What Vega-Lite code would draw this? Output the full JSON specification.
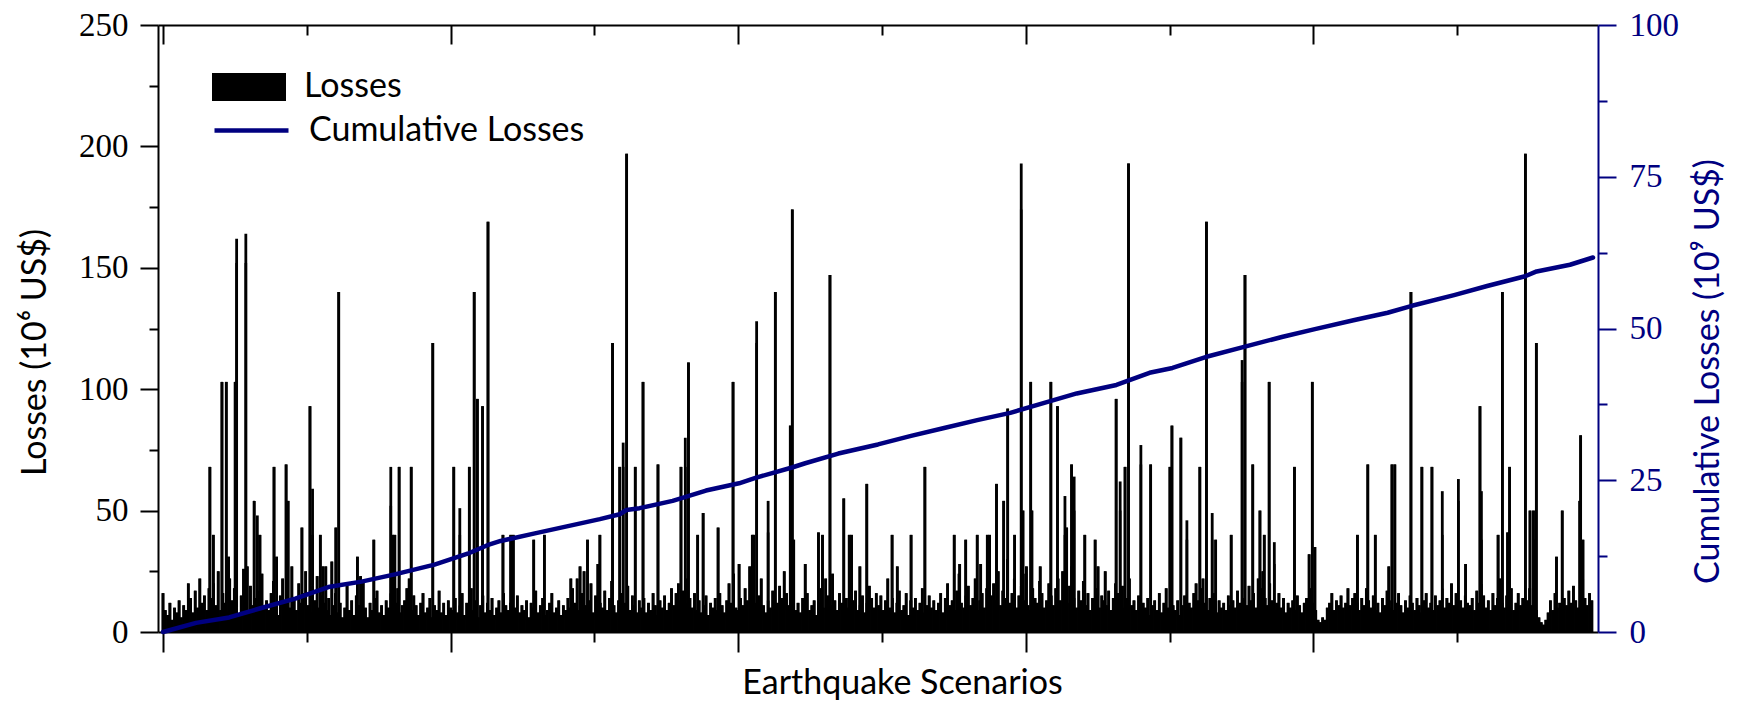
{
"$schema":"https://vega.github.io/schema/vega-lite/v6.json",
"width":1440,"height":607,
"autosize":{"type":"none"},
"padding":{"left":158,"top":25,"right":140,"bottom":72},
"background":"white",
"config":{"view":{"stroke":null},"axis":{"grid":false}},
"datasets":{
"loss":[
{"s":0,"l":16},{"s":8,"l":9},{"s":16,"l":7},{"s":24,"l":12},{"s":32,"l":5},{"s":40,"l":10},{"s":48,"l":8},{"s":56,"l":13},{"s":64,"l":6},{"s":72,"l":11},{"s":80,"l":9},{"s":88,"l":20},{"s":96,"l":14},{"s":104,"l":8},{"s":112,"l":17},{"s":120,"l":10},{"s":128,"l":22},{"s":136,"l":12},{"s":144,"l":15},{"s":152,"l":9},{"s":160,"l":18},
{"s":168,"l":14},{"s":176,"l":20},{"s":184,"l":11},{"s":192,"l":25},{"s":200,"l":9},{"s":208,"l":16},{"s":216,"l":12},{"s":224,"l":8},{"s":232,"l":22},{"s":240,"l":13},{"s":248,"l":18},{"s":256,"l":10},{"s":264,"l":7},{"s":272,"l":15},{"s":280,"l":26},{"s":288,"l":12},{"s":296,"l":9},{"s":304,"l":19},{"s":312,"l":11},{"s":320,"l":14},{"s":328,"l":8},{"s":336,"l":17},{"s":344,"l":24},{"s":352,"l":10},{"s":360,"l":13},{"s":368,"l":9},{"s":376,"l":16},{"s":384,"l":21},{"s":392,"l":12},{"s":400,"l":7},
{"s":408,"l":15},{"s":416,"l":22},{"s":424,"l":13},{"s":432,"l":18},{"s":440,"l":10},{"s":448,"l":27},{"s":456,"l":14},{"s":464,"l":9},{"s":472,"l":20},{"s":480,"l":12},{"s":488,"l":16},{"s":496,"l":25},{"s":504,"l":11},{"s":512,"l":8},{"s":520,"l":19},{"s":528,"l":13},{"s":536,"l":23},{"s":544,"l":10},{"s":552,"l":15},{"s":560,"l":12},
{"s":568,"l":9},{"s":576,"l":14},{"s":584,"l":7},{"s":592,"l":11},{"s":600,"l":16},{"s":608,"l":8},{"s":616,"l":12},{"s":624,"l":6},{"s":632,"l":10},{"s":640,"l":19},{"s":648,"l":9},{"s":656,"l":13},{"s":664,"l":7},{"s":672,"l":15},{"s":680,"l":11},{"s":688,"l":8},{"s":696,"l":21},{"s":704,"l":10},{"s":712,"l":6},{"s":720,"l":12},{"s":728,"l":9},{"s":736,"l":14},{"s":744,"l":17},{"s":752,"l":8},{"s":760,"l":11},{"s":768,"l":7},{"s":776,"l":13},{"s":784,"l":10},{"s":792,"l":16},{"s":800,"l":9},{"s":808,"l":12},{"s":816,"l":18},{"s":824,"l":8},{"s":832,"l":11},
{"s":840,"l":13},{"s":848,"l":18},{"s":856,"l":22},{"s":864,"l":9},{"s":872,"l":15},{"s":880,"l":11},{"s":888,"l":7},{"s":896,"l":12},{"s":904,"l":16},{"s":912,"l":8},{"s":920,"l":10},{"s":928,"l":14},{"s":936,"l":6},{"s":944,"l":11},{"s":952,"l":9},{"s":960,"l":17},{"s":968,"l":8},{"s":976,"l":12},{"s":984,"l":7},{"s":992,"l":13},{"s":1000,"l":10},
{"s":1008,"l":9},{"s":1016,"l":14},{"s":1024,"l":8},{"s":1032,"l":11},{"s":1040,"l":16},{"s":1048,"l":7},{"s":1056,"l":12},{"s":1064,"l":10},{"s":1072,"l":18},{"s":1080,"l":9},{"s":1088,"l":13},{"s":1096,"l":6},{"s":1104,"l":11},{"s":1112,"l":15},{"s":1120,"l":8},{"s":1128,"l":12},{"s":1136,"l":9},{"s":1144,"l":14},{"s":1152,"l":7},{"s":1160,"l":10},{"s":1168,"l":13},{"s":1176,"l":8},{"s":1184,"l":16},{"s":1192,"l":11},{"s":1200,"l":9},
{"s":1208,"l":12},{"s":1216,"l":7},{"s":1224,"l":10},{"s":1232,"l":15},{"s":1240,"l":8},{"s":1248,"l":11},{"s":1256,"l":9},{"s":1264,"l":13},{"s":1272,"l":6},{"s":1280,"l":12},{"s":1288,"l":10},{"s":1296,"l":17},{"s":1304,"l":8},{"s":1312,"l":11},{"s":1320,"l":14},{"s":1328,"l":7},{"s":1336,"l":9},{"s":1344,"l":12},{"s":1352,"l":16},{"s":1360,"l":8},{"s":1368,"l":10},{"s":1376,"l":13},{"s":1384,"l":7},{"s":1392,"l":11},{"s":1400,"l":9},
{"s":1408,"l":14},{"s":1416,"l":10},{"s":1424,"l":18},{"s":1432,"l":12},{"s":1440,"l":22},{"s":1448,"l":9},{"s":1456,"l":16},{"s":1464,"l":25},{"s":1472,"l":11},{"s":1480,"l":13},{"s":1488,"l":20},{"s":1496,"l":8},{"s":1504,"l":15},{"s":1512,"l":28},{"s":1520,"l":12},{"s":1528,"l":10},{"s":1536,"l":17},{"s":1544,"l":9},{"s":1552,"l":14},{"s":1560,"l":21},{"s":1568,"l":11},{"s":1576,"l":8},{"s":1584,"l":13},{"s":1592,"l":16},{"s":1600,"l":10},{"s":1608,"l":12},{"s":1616,"l":19},{"s":1624,"l":9},{"s":1632,"l":15},{"s":1640,"l":11},{"s":1648,"l":8},{"s":1656,"l":13},
{"s":1664,"l":10},{"s":1672,"l":14},{"s":1680,"l":8},{"s":1688,"l":12},{"s":1696,"l":9},{"s":1704,"l":16},{"s":1712,"l":11},{"s":1720,"l":7},{"s":1728,"l":13},{"s":1736,"l":10},{"s":1744,"l":15},{"s":1752,"l":9},{"s":1760,"l":12},{"s":1768,"l":18},{"s":1776,"l":11},{"s":1784,"l":16},{"s":1792,"l":20},{"s":1800,"l":13},
{"s":1808,"l":17},{"s":1816,"l":12},{"s":1824,"l":22},{"s":1832,"l":14},{"s":1840,"l":10},{"s":1848,"l":16},{"s":1856,"l":9},{"s":1864,"l":13},{"s":1872,"l":8},{"s":1880,"l":11},{"s":1888,"l":15},{"s":1896,"l":7},{"s":1904,"l":12},{"s":1912,"l":10},{"s":1920,"l":14},{"s":1928,"l":9},{"s":1936,"l":16},{"s":1944,"l":11},{"s":1952,"l":8},{"s":1960,"l":13},{"s":1968,"l":20},{"s":1976,"l":12},{"s":1984,"l":24},{"s":1992,"l":10},{"s":2000,"l":9},
{"s":2008,"l":14},{"s":2016,"l":11},{"s":2024,"l":18},{"s":2032,"l":13},{"s":2040,"l":27},{"s":2048,"l":16},{"s":2056,"l":12},{"s":2064,"l":9},{"s":2072,"l":15},{"s":2080,"l":22},{"s":2088,"l":11},{"s":2096,"l":8},{"s":2104,"l":13},{"s":2112,"l":10},{"s":2120,"l":17},{"s":2128,"l":9},{"s":2136,"l":12},{"s":2144,"l":19},{"s":2152,"l":14},{"s":2160,"l":25},{"s":2168,"l":16},{"s":2176,"l":11},{"s":2184,"l":20},{"s":2192,"l":13},{"s":2200,"l":9},
{"s":2208,"l":12},{"s":2216,"l":8},{"s":2224,"l":14},{"s":2232,"l":10},{"s":2240,"l":16},{"s":2248,"l":9},{"s":2256,"l":11},{"s":2264,"l":13},{"s":2272,"l":7},{"s":2280,"l":12},{"s":2288,"l":18},{"s":2296,"l":10},{"s":2304,"l":22},{"s":2312,"l":15},{"s":2320,"l":11},{"s":2328,"l":24},{"s":2336,"l":13},{"s":2344,"l":9},{"s":2352,"l":16},{"s":2360,"l":12},{"s":2368,"l":8},{"s":2376,"l":14},{"s":2384,"l":10},{"s":2392,"l":20},{"s":2400,"l":13},{"s":2408,"l":17},{"s":2416,"l":9},{"s":2424,"l":11},{"s":2432,"l":15},{"s":2440,"l":8},{"s":2448,"l":12},{"s":2456,"l":19},{"s":2464,"l":14},{"s":2472,"l":10},{"s":2480,"l":16},
{"s":2488,"l":11},{"s":2496,"l":15},{"s":2504,"l":9},{"s":2512,"l":13},{"s":2520,"l":22},{"s":2528,"l":10},{"s":2536,"l":14},{"s":2544,"l":8},{"s":2552,"l":12},{"s":2560,"l":17},{"s":2568,"l":9},{"s":2576,"l":11},{"s":2584,"l":16},{"s":2592,"l":7},{"s":2600,"l":13},{"s":2608,"l":10},{"s":2616,"l":14},{"s":2624,"l":9},{"s":2632,"l":12},{"s":2640,"l":18},{"s":2648,"l":8},{"s":2656,"l":11},{"s":2664,"l":15},{"s":2672,"l":10},{"s":2680,"l":13},
{"s":2688,"l":9},{"s":2696,"l":12},{"s":2704,"l":16},{"s":2712,"l":8},{"s":2720,"l":14},{"s":2728,"l":20},{"s":2736,"l":11},{"s":2744,"l":13},{"s":2752,"l":9},{"s":2760,"l":17},{"s":2768,"l":24},{"s":2776,"l":12},{"s":2784,"l":10},{"s":2792,"l":15},{"s":2800,"l":19},{"s":2808,"l":11},{"s":2816,"l":14},{"s":2824,"l":22},{"s":2832,"l":9},{"s":2840,"l":13},{"s":2848,"l":16},{"s":2856,"l":10},{"s":2864,"l":18},{"s":2872,"l":12},{"s":2880,"l":15},
{"s":2888,"l":20},{"s":2896,"l":13},{"s":2904,"l":25},{"s":2912,"l":11},{"s":2920,"l":17},{"s":2928,"l":14},{"s":2936,"l":30},{"s":2944,"l":12},{"s":2952,"l":16},{"s":2960,"l":22},{"s":2968,"l":10},{"s":2976,"l":15},{"s":2984,"l":19},{"s":2992,"l":13},{"s":3000,"l":24},{"s":3008,"l":11},{"s":3016,"l":9},{"s":3024,"l":18},{"s":3032,"l":14},{"s":3040,"l":12},{"s":3048,"l":21},{"s":3056,"l":16},{"s":3064,"l":10},{"s":3072,"l":13},{"s":3080,"l":20},
{"s":3088,"l":15},{"s":3096,"l":11},{"s":3104,"l":18},{"s":3112,"l":22},{"s":3120,"l":13},{"s":3128,"l":25},{"s":3136,"l":16},{"s":3144,"l":12},{"s":3152,"l":19},{"s":3160,"l":27},{"s":3168,"l":14},{"s":3176,"l":10},{"s":3184,"l":17},{"s":3192,"l":13},{"s":3200,"l":21},{"s":3208,"l":11},{"s":3216,"l":16},{"s":3224,"l":9},{"s":3232,"l":14},{"s":3240,"l":12},{"s":3248,"l":18},{"s":3256,"l":10},{"s":3264,"l":15},{"s":3272,"l":13},{"s":3280,"l":11},{"s":3288,"l":17},{"s":3296,"l":9},{"s":3304,"l":14},{"s":3312,"l":20},
{"s":3320,"l":16},{"s":3328,"l":12},{"s":3336,"l":19},{"s":3344,"l":10},{"s":3352,"l":14},{"s":3360,"l":22},{"s":3368,"l":11},{"s":3376,"l":13},{"s":3384,"l":9},{"s":3392,"l":15},{"s":3400,"l":8},{"s":3408,"l":12},{"s":3416,"l":10},{"s":3424,"l":14},{"s":3432,"l":7},{"s":3440,"l":11},{"s":3448,"l":13},{"s":3456,"l":9},{"s":3464,"l":16},{"s":3472,"l":8},{"s":3480,"l":12},{"s":3488,"l":18},{"s":3496,"l":10},{"s":3504,"l":14},{"s":3512,"l":11},
{"s":3520,"l":9},{"s":3528,"l":13},{"s":3536,"l":7},{"s":3544,"l":11},{"s":3552,"l":15},{"s":3560,"l":8},{"s":3568,"l":12},{"s":3576,"l":10},{"s":3584,"l":16},{"s":3592,"l":20},{"s":3600,"l":13},{"s":3608,"l":18},{"s":3616,"l":22},{"s":3624,"l":12},{"s":3632,"l":9},{"s":3640,"l":14},{"s":3648,"l":11},{"s":3656,"l":16},{"s":3664,"l":8},{"s":3672,"l":13},{"s":3680,"l":10},{"s":3688,"l":12},{"s":3696,"l":9},{"s":3704,"l":15},{"s":3712,"l":11},
{"s":3720,"l":13},{"s":3728,"l":10},{"s":3736,"l":17},{"s":3744,"l":12},{"s":3752,"l":9},{"s":3760,"l":14},{"s":3768,"l":11},{"s":3776,"l":19},{"s":3784,"l":13},{"s":3792,"l":16},{"s":3800,"l":10},{"s":3808,"l":22},{"s":3816,"l":18},{"s":3824,"l":25},{"s":3832,"l":14},{"s":3840,"l":11},{"s":3848,"l":20},{"s":3856,"l":13},{"s":3864,"l":9},{"s":3872,"l":12},{"s":3880,"l":16},{"s":3888,"l":10},{"s":3896,"l":14},{"s":3904,"l":8},{"s":3912,"l":12},
{"s":3920,"l":10},{"s":3928,"l":13},{"s":3936,"l":9},{"s":3944,"l":15},{"s":3952,"l":11},{"s":3960,"l":8},{"s":3968,"l":12},{"s":3976,"l":14},{"s":3984,"l":10},{"s":3992,"l":18},{"s":4000,"l":12},{"s":4008,"l":9},{"s":4016,"l":5},{"s":4024,"l":4},{"s":4032,"l":6},{"s":4040,"l":5},{"s":4048,"l":10},{"s":4056,"l":12},{"s":4064,"l":16},{"s":4072,"l":9},{"s":4080,"l":13},{"s":4088,"l":11},{"s":4096,"l":15},{"s":4104,"l":10},{"s":4112,"l":12},{"s":4120,"l":18},{"s":4128,"l":11},{"s":4136,"l":14},
{"s":4144,"l":16},{"s":4152,"l":12},{"s":4160,"l":9},{"s":4168,"l":14},{"s":4176,"l":11},{"s":4184,"l":18},{"s":4192,"l":13},{"s":4200,"l":10},{"s":4208,"l":15},{"s":4216,"l":9},{"s":4224,"l":12},{"s":4232,"l":8},{"s":4240,"l":14},{"s":4248,"l":11},{"s":4256,"l":17},{"s":4264,"l":10},{"s":4272,"l":13},{"s":4280,"l":9},{"s":4288,"l":12},{"s":4296,"l":16},{"s":4304,"l":11},{"s":4312,"l":8},{"s":4320,"l":13},{"s":4328,"l":10},{"s":4336,"l":15},
{"s":4344,"l":12},{"s":4352,"l":9},{"s":4360,"l":14},{"s":4368,"l":11},{"s":4376,"l":8},{"s":4384,"l":13},{"s":4392,"l":16},{"s":4400,"l":10},{"s":4408,"l":12},{"s":4416,"l":9},{"s":4424,"l":15},{"s":4432,"l":11},{"s":4440,"l":13},{"s":4448,"l":18},{"s":4456,"l":10},{"s":4464,"l":14},{"s":4472,"l":12},{"s":4480,"l":20},{"s":4488,"l":11},{"s":4496,"l":16},{"s":4504,"l":9},{"s":4512,"l":13},{"s":4520,"l":10},{"s":4528,"l":15},{"s":4536,"l":12},
{"s":4544,"l":11},{"s":4552,"l":14},{"s":4560,"l":9},{"s":4568,"l":17},{"s":4576,"l":12},{"s":4584,"l":20},{"s":4592,"l":15},{"s":4600,"l":10},{"s":4608,"l":13},{"s":4616,"l":9},{"s":4624,"l":16},{"s":4632,"l":11},{"s":4640,"l":14},{"s":4648,"l":22},{"s":4656,"l":12},{"s":4664,"l":10},{"s":4672,"l":15},{"s":4680,"l":13},{"s":4688,"l":18},{"s":4696,"l":9},{"s":4704,"l":12},{"s":4712,"l":16},{"s":4720,"l":11},{"s":4728,"l":14},{"s":4736,"l":10},
{"s":4744,"l":13},{"s":4752,"l":18},{"s":4760,"l":11},{"s":4768,"l":15},{"s":4776,"l":9},{"s":4784,"l":6},{"s":4792,"l":4},{"s":4800,"l":3},{"s":4808,"l":5},{"s":4816,"l":8},{"s":4824,"l":13},{"s":4832,"l":9},{"s":4840,"l":16},{"s":4848,"l":10},{"s":4856,"l":12},{"s":4864,"l":8},{"s":4872,"l":14},{"s":4880,"l":11},{"s":4888,"l":17},{"s":4896,"l":12},{"s":4904,"l":19},{"s":4912,"l":13},{"s":4920,"l":10},{"s":4928,"l":15},{"s":4936,"l":22},{"s":4944,"l":14},{"s":4952,"l":11},{"s":4960,"l":16},{"s":4968,"l":13},
{"s":163,"l":68},{"s":175,"l":40},{"s":205,"l":103},{"s":220,"l":103},{"s":228,"l":31},{"s":251,"l":103},{"s":256,"l":152},{"s":288,"l":152},{"s":293,"l":27},{"s":317,"l":54},{"s":328,"l":40},{"s":337,"l":40},{"s":386,"l":68},{"s":395,"l":31},{"s":428,"l":69},{"s":435,"l":54},{"s":483,"l":43},{"s":511,"l":93},{"s":520,"l":40},{"s":547,"l":40},{"s":556,"l":27},{"s":566,"l":27},{"s":587,"l":29},{"s":601,"l":43},{"s":611,"l":140},{"s":676,"l":31},{"s":687,"l":23},{"s":733,"l":38},{"s":792,"l":52},{"s":799,"l":40},{"s":806,"l":40},{"s":821,"l":68},
{"s":863,"l":68},{"s":938,"l":119},{"s":1011,"l":68},{"s":1032,"l":40},{"s":1065,"l":68},{"s":1082,"l":140},{"s":1093,"l":96},{"s":1111,"l":93},{"s":1130,"l":169},{"s":1182,"l":40},{"s":1209,"l":40},{"s":1218,"l":40},{"s":1289,"l":38},{"s":1326,"l":40},{"s":1418,"l":22},{"s":1450,"l":27},{"s":1476,"l":38},{"s":1519,"l":40},{"s":1563,"l":119},{"s":1588,"l":68},{"s":1600,"l":68},{"s":1612,"l":197},{"s":1642,"l":68},
{"s":1669,"l":103},{"s":1721,"l":69},{"s":1801,"l":68},{"s":1816,"l":68},{"s":1827,"l":111},{"s":1859,"l":40},{"s":1878,"l":49},{"s":1930,"l":43},{"s":1982,"l":103},{"s":2003,"l":28},{"s":2049,"l":40},{"s":2054,"l":40},{"s":2064,"l":119},{"s":2104,"l":41},{"s":2129,"l":140},{"s":2181,"l":85},{"s":2188,"l":174},{"s":2193,"l":38},{"s":2233,"l":28},{"s":2279,"l":41},{"s":2293,"l":40},{"s":2319,"l":147},{"s":2367,"l":55},{"s":2386,"l":40},{"s":2394,"l":40},{"s":2423,"l":27},{"s":2447,"l":61},
{"s":2535,"l":40},{"s":2553,"l":27},{"s":2601,"l":40},{"s":2649,"l":68},{"s":2751,"l":40},{"s":2770,"l":28},{"s":2791,"l":38},{"s":2831,"l":40},{"s":2843,"l":28},{"s":2866,"l":40},{"s":2874,"l":40},{"s":2898,"l":61},{"s":2923,"l":54},{"s":2937,"l":92},{"s":2961,"l":40},{"s":2984,"l":174},{"s":2990,"l":50},{"s":3002,"l":27},{"s":3017,"l":103},{"s":3021,"l":50},{"s":3050,"l":27},{"s":3087,"l":103},{"s":3110,"l":93},{"s":3136,"l":40},{"s":3142,"l":43},{"s":3159,"l":69},{"s":3168,"l":50},{"s":3205,"l":40},{"s":3241,"l":38},{"s":3251,"l":27},{"s":3276,"l":25},{"s":3314,"l":96},
{"s":3328,"l":50},{"s":3345,"l":68},{"s":3357,"l":193},{"s":3400,"l":69},{"s":3434,"l":69},{"s":3501,"l":68},{"s":3508,"l":85},{"s":3539,"l":80},{"s":3560,"l":38},{"s":3605,"l":68},{"s":3628,"l":169},{"s":3648,"l":38},{"s":3660,"l":38},{"s":3714,"l":40},{"s":3752,"l":103},{"s":3762,"l":147},{"s":3789,"l":69},{"s":3814,"l":50},{"s":3829,"l":40},{"s":3846,"l":103},{"s":3864,"l":28},{"s":3934,"l":68},{"s":3985,"l":32},{"s":3996,"l":103},{"s":4005,"l":35},
{"s":4153,"l":40},{"s":4189,"l":69},{"s":4215,"l":40},{"s":4262,"l":27},{"s":4273,"l":69},{"s":4283,"l":69},{"s":4339,"l":140},{"s":4377,"l":68},{"s":4412,"l":68},{"s":4448,"l":40},{"s":4504,"l":54},{"s":4529,"l":28},{"s":4579,"l":93},{"s":4584,"l":38},{"s":4642,"l":40},{"s":4657,"l":140},{"s":4675,"l":41},{"s":4682,"l":68},{"s":4737,"l":197},{"s":4753,"l":50},{"s":4765,"l":50},{"s":4771,"l":38},{"s":4775,"l":119},{"s":4845,"l":31},{"s":4865,"l":50},{"s":4926,"l":54},{"s":4929,"l":81},{"s":4937,"l":38}
],
"cum":[
{"s":0,"c":0},{"s":115,"c":1.5},{"s":230,"c":2.4},{"s":345,"c":4.0},{"s":460,"c":5.5},{"s":575,"c":7.4},{"s":690,"c":8.3},{"s":806,"c":9.5},{"s":944,"c":11.1},{"s":1059,"c":12.9},{"s":1128,"c":14.3},{"s":1174,"c":15.0},{"s":1289,"c":16.2},{"s":1404,"c":17.4},{"s":1519,"c":18.6},{"s":1588,"c":19.4},{"s":1611,"c":20.1},{"s":1657,"c":20.4},{"s":1772,"c":21.6},{"s":1888,"c":23.3},{"s":2003,"c":24.5},{"s":2060,"c":25.4},{"s":2187,"c":27.1},{"s":2233,"c":27.8},{"s":2348,"c":29.4},{"s":2486,"c":30.9},{"s":2601,"c":32.3},{"s":2716,"c":33.6},{"s":2831,"c":34.9},{"s":2946,"c":36.1},{"s":3061,"c":37.7},{"s":3177,"c":39.3},{"s":3315,"c":40.7},{"s":3430,"c":42.7},{"s":3510,"c":43.5},{"s":3625,"c":45.3},{"s":3752,"c":46.9},{"s":3890,"c":48.6},{"s":4005,"c":49.9},{"s":4143,"c":51.4},{"s":4258,"c":52.6},{"s":4339,"c":53.7},{"s":4489,"c":55.5},{"s":4604,"c":57.0},{"s":4736,"c":58.6},{"s":4776,"c":59.4},{"s":4892,"c":60.5},{"s":4972,"c":61.7}
]
},
"layer":[
{
"data":{"name":"loss"},
"mark":{"type":"bar"},
"encoding":{
"x":{"field":"s","type":"quantitative","scale":{"domain":[0,4972],"nice":false,"zero":true},
"axis":{"orient":"bottom","values":[0,500,1000,1500,2000,2500,3000,3500,4000,4500],"labels":false,
"tickSize":{"condition":{"test":"datum.value % 1000 === 0","value":20},"value":10},
"tickWidth":2,"tickColor":"black","domainColor":"black","domainWidth":2,
"title":"Earthquake Scenarios","titleFont":"Lato","titleFontSize":34,"titleFontWeight":"normal","titleColor":"black",
"titleX":744,"titleY":61,"titleBaseline":"alphabetic","titleAlign":"center"}},
"y":{"field":"l","type":"quantitative","scale":{"domain":[0,250],"nice":false},
"axis":{"orient":"left","values":[0,25,50,75,100,125,150,175,200,225,250],
"tickSize":{"condition":{"test":"datum.value % 50 === 0","value":18},"value":9},
"labelExpr":"datum.value % 50 === 0 ? datum.label : ''",
"labelFont":"Liberation Serif","labelFontSize":33,"labelColor":"black","labelPadding":12,"labelFlush":false,"labelOverlap":false,"labelBaseline":"middle",
"tickWidth":2,"tickColor":"black","domainColor":"black","domainWidth":2,
"title":"Losses  (10⁶ US$)","titleFont":"Lato","titleFontSize":34,"titleFontWeight":"normal","titleColor":"black",
"titleAngle":270,"titleX":-113,"titleY":327,"titleAlign":"center","titleBaseline":"alphabetic"}},
"size":{"value":2.8},
"fill":{"datum":"Losses","scale":{"domain":["Losses"],"range":["black"]},
"legend":{"orient":"none","legendX":54,"legendY":25,"title":null,"padding":0,
"symbolType":"M-1,-0.38L1,-0.38L1,0.38L-1,0.38Z","symbolSize":5476,"symbolStrokeWidth":0,
"labelFont":"Lato","labelFontSize":34,"labelColor":"black","labelOffset":18,"labelLimit":0}}
}
},
{
"data":{"name":"loss"},
"mark":{"type":"rule","strokeWidth":2.6,"color":"black"},
"encoding":{
"x":{"field":"s","type":"quantitative","scale":{"domain":[0,4972],"nice":false,"zero":true},"axis":null},
"y":{"field":"l","type":"quantitative","scale":{"domain":[0,250],"nice":false},"axis":null},
"y2":{"datum":0}
}
},
{
"data":{"name":"cum"},
"mark":{"type":"line","strokeWidth":4.5,"strokeJoin":"round","strokeCap":"round"},
"encoding":{
"x":{"field":"s","type":"quantitative","scale":{"domain":[0,4972],"nice":false,"zero":true},
"axis":{"orient":"top","values":[0,500,1000,1500,2000,2500,3000,3500,4000,4500],"labels":false,
"tickSize":{"condition":{"test":"datum.value % 1000 === 0","value":-19},"value":-10},
"tickWidth":2,"tickColor":"black","domainColor":"black","domainWidth":2,"title":null}},
"y":{"field":"c","type":"quantitative","scale":{"domain":[0,100],"nice":false},
"axis":{"orient":"right","values":[0,12.5,25,37.5,50,62.5,75,87.5,100],
"tickSize":{"condition":{"test":"datum.value % 25 === 0","value":18},"value":9},
"labelExpr":"datum.value % 25 === 0 ? datum.label : ''",
"labelFont":"Liberation Serif","labelFontSize":33,"labelColor":"#000080","labelPadding":13,"labelFlush":false,"labelOverlap":false,"labelBaseline":"middle",
"tickWidth":2,"tickColor":"#000080","domainColor":"#000080","domainWidth":2,
"title":"Cumulative Losses  (10⁹ US$)","titleFont":"Lato","titleFontSize":34,"titleFontWeight":"normal","titleColor":"#000080",
"titleAngle":270,"titleX":120,"titleY":346,"titleAlign":"center","titleBaseline":"alphabetic"}},
"stroke":{"datum":"Cumulative Losses","scale":{"domain":["Cumulative Losses"],"range":["#000080"]},
"legend":{"orient":"none","legendX":54,"legendY":66,"title":null,"padding":0,
"symbolType":"stroke","symbolSize":5476,"symbolStrokeWidth":4.5,
"labelFont":"Lato","labelFontSize":34,"labelColor":"black","labelOffset":18,"labelLimit":0}}
}
}
],
"resolve":{"scale":{"y":"independent","fill":"independent","stroke":"independent"},"axis":{"x":"independent","y":"independent"}}
}
